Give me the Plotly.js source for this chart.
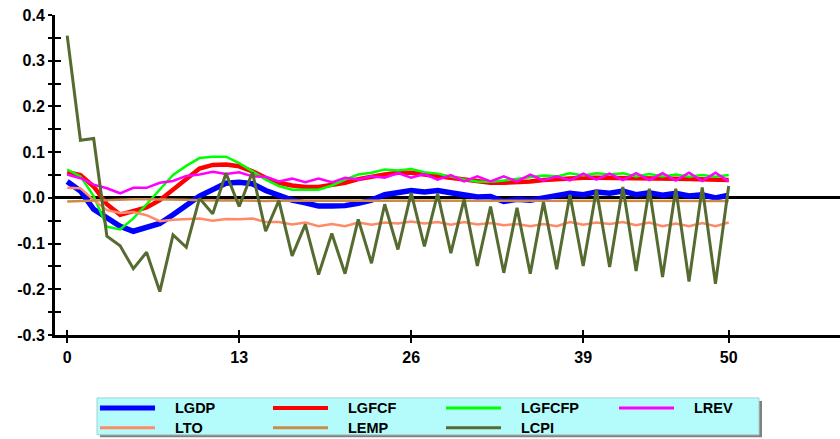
<!DOCTYPE html>
<html><head><meta charset="utf-8">
<script src="https://cdn.plot.ly/plotly-3.0.1.min.js"></script>
<style>html,body{margin:0;padding:0;background:#fff}#chart{width:840px;height:439px}</style>
</head><body><div id="chart"></div>
<script>
const periods = [0,1,2,3,4,5,6,7,8,9,10,11,12,13,14,15,16,17,18,19,20,21,22,23,24,25,26,27,28,29,30,31,32,33,34,35,36,37,38,39,40,41,42,43,44,45,46,47,48,49,50];

const seriesNames = ['LGDP','LGFCF','LGFCFP','LREV','LTO','LEMP','LCPI'];

const LGDP = [0.036,0.015,-0.025,-0.043,-0.062,-0.073,-0.066,-0.056,-0.037,-0.017,0.004,0.018,0.032,0.034,0.031,0.016,0.005,-0.005,-0.011,-0.018,-0.018,-0.017,-0.012,-0.005,0.007,0.011,0.016,0.013,0.016,0.011,0.005,0.002,0.003,-0.008,-0.003,-0.005,0.0,0.004,0.010,0.007,0.013,0.010,0.015,0.007,0.011,0.006,0.010,0.004,0.007,0.000,0.006];
const LGFCF = [0.056,0.050,0.025,-0.014,-0.037,-0.030,-0.021,-0.005,0.018,0.042,0.064,0.072,0.073,0.069,0.058,0.044,0.033,0.027,0.024,0.024,0.028,0.033,0.041,0.047,0.051,0.055,0.055,0.051,0.047,0.044,0.040,0.036,0.033,0.033,0.034,0.036,0.039,0.041,0.043,0.044,0.044,0.044,0.044,0.043,0.043,0.042,0.042,0.041,0.041,0.040,0.039];
const LGFCFP = [0.062,0.047,0.004,-0.063,-0.069,-0.045,-0.014,0.018,0.050,0.070,0.087,0.090,0.090,0.076,0.058,0.040,0.026,0.018,0.018,0.018,0.027,0.040,0.051,0.055,0.062,0.060,0.063,0.056,0.053,0.047,0.040,0.036,0.035,0.038,0.042,0.046,0.049,0.047,0.054,0.049,0.054,0.051,0.054,0.047,0.052,0.047,0.051,0.046,0.050,0.046,0.050];
const LREV = [0.051,0.043,0.029,0.021,0.010,0.022,0.022,0.033,0.037,0.048,0.051,0.057,0.052,0.056,0.047,0.046,0.036,0.042,0.034,0.042,0.034,0.044,0.040,0.047,0.044,0.054,0.044,0.052,0.040,0.050,0.036,0.047,0.036,0.047,0.036,0.051,0.038,0.047,0.038,0.053,0.040,0.053,0.039,0.054,0.039,0.054,0.038,0.055,0.037,0.055,0.036];
const LTO = [0.022,0.021,-0.005,-0.027,-0.033,-0.031,-0.038,-0.051,-0.048,-0.046,-0.045,-0.050,-0.046,-0.047,-0.045,-0.053,-0.053,-0.058,-0.054,-0.062,-0.057,-0.062,-0.054,-0.059,-0.054,-0.056,-0.052,-0.056,-0.053,-0.059,-0.053,-0.058,-0.055,-0.060,-0.057,-0.062,-0.057,-0.062,-0.053,-0.059,-0.054,-0.057,-0.053,-0.060,-0.054,-0.062,-0.056,-0.062,-0.055,-0.062,-0.054];
const LEMP = [-0.008,-0.007,-0.005,-0.004,-0.003,-0.003,-0.003,-0.003,-0.004,-0.004,-0.005,-0.006,-0.005,-0.006,-0.006,-0.007,-0.006,-0.006,-0.007,-0.006,-0.006,-0.007,-0.006,-0.007,-0.006,-0.006,-0.007,-0.006,-0.007,-0.006,-0.007,-0.006,-0.007,-0.006,-0.007,-0.006,-0.007,-0.006,-0.007,-0.006,-0.007,-0.006,-0.007,-0.006,-0.007,-0.006,-0.007,-0.006,-0.007,-0.006,-0.007];
const LCPI = [0.355,0.126,0.130,-0.084,-0.105,-0.155,-0.119,-0.205,-0.081,-0.108,-0.001,-0.035,0.054,-0.019,0.056,-0.073,-0.006,-0.127,-0.058,-0.168,-0.078,-0.166,-0.047,-0.143,-0.014,-0.113,0.011,-0.106,0.009,-0.121,-0.003,-0.149,-0.019,-0.164,-0.022,-0.166,-0.009,-0.156,0.007,-0.149,0.017,-0.151,0.024,-0.160,0.020,-0.173,0.020,-0.183,0.023,-0.188,0.026];

const xTickVals = [0,13,26,39,50];
const xTickText = ['0','13','26','39','50'];
const yTickVals = [-0.3,-0.25,-0.2,-0.15,-0.1,-0.05,0,0.05,0.1,0.15,0.2,0.25,0.3,0.35,0.4];
const yTickText = ['-0.3','','-0.2','','-0.1','','0.0','','0.1','','0.2','','0.3','','0.4'];

const seriesValues = [LGDP, LGFCF, LGFCFP, LREV, LTO, LEMP, LCPI];
const seriesColors = ['#0000FF','#FF0000','#00FF00','#FF00FF','#FF8A65','#CD8B4A','#556B2F'];
const seriesWidths = [5.5,4.5,2.5,2.5,2.5,2.5,3];
const legendWidths = [5,4,3,3,3,3,3];

const W = 840, H = 439;
const M = {l:55, r:0, t:14.5, b:104};
const plotW = W - M.l - M.r, plotH = H - M.t - M.b;
const px2xp = px => (px - M.l) / plotW;
const py2yp = py => (H - M.b - py) / plotH;

const traces = seriesNames.map((name, k) => ({
  type: 'scatter', mode: 'lines', name: name,
  x: periods, y: seriesValues[k],
  line: {color: seriesColors[k], width: seriesWidths[k]},
  showlegend: false, hoverinfo: 'skip'
}));

const font = {family: 'Liberation Sans, Arial, Helvetica, sans-serif', size: 16, color: '#000', weight: 'bold'};

const shapes = [
  {type:'rect', xref:'paper', yref:'paper', x0:px2xp(100), x1:px2xp(762), y0:py2yp(401), y1:py2yp(437.5),
   fillcolor:'#808080', line:{width:0}, layer:'above'},
  {type:'rect', xref:'paper', yref:'paper', x0:px2xp(97), x1:px2xp(759), y0:py2yp(398), y1:py2yp(435),
   fillcolor:'#B4FCFC', line:{width:1, color:'#A8CFCF'}, layer:'above'}
];
const annotations = [];
seriesNames.forEach((name, k) => {
  const col = k % 4, row = Math.floor(k / 4);
  const lx = 100 + col * 173, ly = 408 + row * 20;
  shapes.push({type:'line', xref:'paper', yref:'paper', x0:px2xp(lx), x1:px2xp(lx + 55), y0:py2yp(ly), y1:py2yp(ly),
    line:{color: seriesColors[k], width: legendWidths[k]}, layer:'above'});
  annotations.push({xref:'paper', yref:'paper', x:px2xp(lx + 73), y:py2yp(ly), xanchor:'left', yanchor:'middle',
    text: name, showarrow:false, font:{family: font.family, size: 14.5, color:'#000', weight:'bold'}});
});

const layout = {
  width: W, height: H, margin: M,
  paper_bgcolor: '#fff', plot_bgcolor: '#fff', showlegend: false,
  xaxis: {range: [(M.l - 67.2) / 13.23, (W - 67.2) / 13.23], tickmode:'array', tickvals: xTickVals, ticktext: xTickText,
    ticks:'outside', ticklen:5, tickwidth:2, tickcolor:'#000', showline:true, linewidth:3, linecolor:'#000',
    showgrid:false, zeroline:false, tickfont: font, ticklabelstandoff: 1, layer:'above traces'},
  xaxis2: {range: [(M.l - 67.2) / 13.23, (W - 67.2) / 13.23], overlaying:'x', anchor:'y', side:'bottom',
    tickmode:'array', tickvals: xTickVals, ticks:'inside', ticklen:5, tickwidth:2, tickcolor:'#000',
    showticklabels:false, showline:false, showgrid:false, zeroline:false},
  yaxis: {range: [-0.3, 0.4], tickmode:'array', tickvals: yTickVals, ticktext: yTickText,
    ticks:'outside', ticklen:4, tickwidth:2, tickcolor:'#000', showline:true, linewidth:3, linecolor:'#000',
    showgrid:false, zeroline:true, zerolinewidth:3, zerolinecolor:'#000', tickfont: font, layer:'above traces'},
  yaxis2: {range: [-0.3, 0.4], overlaying:'y', anchor:'x', side:'left',
    tickmode:'array', tickvals: yTickVals, ticks:'inside', ticklen:6, tickwidth:2, tickcolor:'#000',
    showticklabels:false, showline:false, showgrid:false, zeroline:false},
  shapes: shapes, annotations: annotations
};

// invisible helper trace to activate overlay axes for crossing ticks
traces.push({type:'scatter', mode:'lines', x:[], y:[], xaxis:'x2', yaxis:'y2', showlegend:false, hoverinfo:'skip'});

Plotly.newPlot('chart', traces, layout, {staticPlot: true, displayModeBar: false});
</script></body></html>
